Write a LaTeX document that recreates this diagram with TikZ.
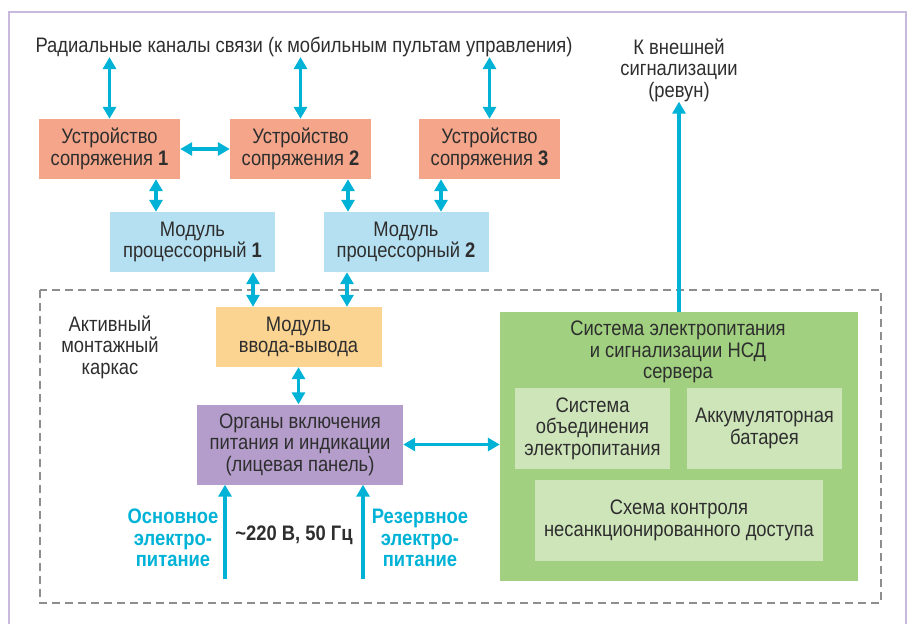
\documentclass[tikz,border=0pt]{standalone}
\usepackage{fontspec}
\setmainfont{Liberation Sans}[FakeStretch=0.875]
\usetikzlibrary{arrows.meta}
\definecolor{txt}{HTML}{2E2E2E}
\definecolor{arrowc}{HTML}{00B2D6}
\definecolor{coupfill}{HTML}{F5A68A}
\definecolor{procfill}{HTML}{B5E0F2}
\definecolor{iofill}{HTML}{FCD491}
\definecolor{orgfill}{HTML}{B49DCB}
\definecolor{psfill}{HTML}{A0D080}
\definecolor{innerfill}{HTML}{CEE5BA}
\definecolor{framec}{HTML}{C9B9DE}
\definecolor{dashc}{HTML}{8E8E8E}

\begin{document}
\begin{tikzpicture}[x=1pt, y=-1pt, >={Triangle[length=12pt,width=13pt]},
    every node/.style={font=\fontsize{21}{21.5}\selectfont, text=txt, align=center, inner sep=0pt},
    blk/.style={minimum height=60pt},
    coup/.style={blk, fill=coupfill, minimum width=141pt},
    proc/.style={blk, fill=procfill, minimum width=165pt},
    io/.style={blk, fill=iofill, minimum width=166pt},
    org/.style={fill=orgfill, minimum width=206pt, minimum height=80pt},
    innerbox/.style={fill=innerfill, minimum width=155pt, minimum height=81pt},
    cyanlbl/.style={text=arrowc, font=\fontsize{21}{21.5}\selectfont\bfseries},
    link/.style={<->, draw=arrowc, line width=3.5pt},
    feed/.style={->, draw=arrowc, line width=3.5pt}]
    \useasboundingbox (0,0) rectangle (914,624);
    %frames
    \draw[framec, line width=2pt] (9,624) -- (9,12) -- (906,12) -- (906,624);
    \draw[dashc, line width=2.5pt, dash pattern=on 8pt off 5pt] (40,290) rectangle (881,603);

    %\node (name)[option]{content}
    \node (radial) at (304,47) {Радиальные каналы связи (к мобильным пультам управления)};
    \node (alarm) at (679,70) {К внешней\\сигнализации\\(ревун)};
    \node (coup1)[coup] at (109.5,149) {Устройство\\сопряжения \textbf{1}};
    \node (coup2)[coup] at (300.5,149) {Устройство\\сопряжения \textbf{2}};
    \node (coup3)[coup] at (489.5,149) {Устройство\\сопряжения \textbf{3}};
    \node (proc1)[proc] at (192.5,242) {Модуль\\процессорный \textbf{1}};
    \node (proc2)[proc] at (406,242) {Модуль\\процессорный \textbf{2}};
    \node (rack) at (110,347) {Активный\\монтажный\\каркас};
    \node (io)[io] at (298.5,337) {Модуль\\ввода-вывода};
    \node (org)[org] at (300,444.5) {Органы включения\\питания и индикации\\(лицевая панель)};
    \node (ps)[fill=psfill, minimum width=358pt, minimum height=269pt] at (679,446.5) {};
    \node (pstitle) at (678,352) {Система электропитания\\и сигнализации НСД\\сервера};
    \node (union)[innerbox] at (592.5,428.5) {Система\\объединения\\электропитания};
    \node (accum)[innerbox] at (764.5,428.5) {Аккумуляторная\\батарея};
    \node (nsd)[innerbox, minimum width=288pt] at (679,520.5) {Схема контроля\\несанкционированного доступа};
    \node (mainpw)[cyanlbl] at (173,538) {Основное\\электро-\\питание};
    \node (volt) at (294,535) {\textbf{\textasciitilde220 В, 50 Гц}};
    \node (respw)[cyanlbl] at (420,538) {Резервное\\электро-\\питание};
    \coordinate (in1) at (225,579);
    \coordinate (in2) at (363,579);

    \draw[link] (coup1.north) -- (coup1.north |- radial.south);
    \draw[link] (coup2.north) -- (coup2.north |- radial.south);
    \draw[link] (coup3.north) -- (coup3.north |- radial.south);
    \draw[link] (coup1) -- (coup2);
    \draw[link] ([xshift=46.5pt]coup1.south) -- ([xshift=46.5pt]coup1.south |- proc1.north);
    \draw[link] ([xshift=47.5pt]coup2.south) -- ([xshift=47.5pt]coup2.south |- proc2.north);
    \draw[link] ([xshift=-48.5pt]coup3.south) -- ([xshift=-48.5pt]coup3.south |- proc2.north);
    \draw[link] ([xshift=60.5pt]proc1.south) -- ([xshift=60.5pt]proc1.south |- io.north);
    \draw[link] ([xshift=-59pt]proc2.south) -- ([xshift=-59pt]proc2.south |- io.north);
    \draw[link] (io.south) -- (io.south |- org.north);
    \draw[link] (org.east) -- (org.east -| ps.west);
    %alarm and mains
    \draw[feed] (ps.north) -- (alarm.south);
    \draw[feed] (in1) -- (in1 |- org.south);
    \draw[feed] (in2) -- (in2 |- org.south);
\end{tikzpicture}
\end{document}
